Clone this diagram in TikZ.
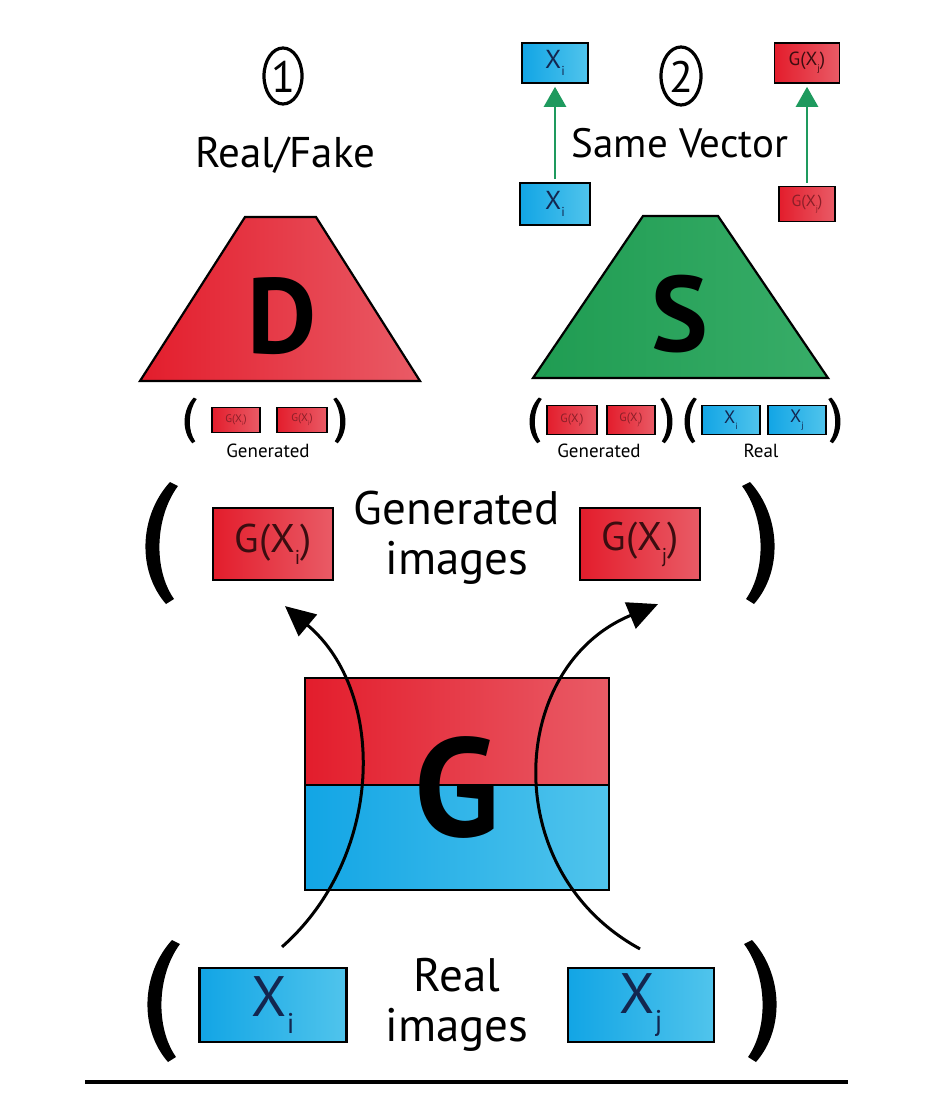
\documentclass[tikz,border=0pt]{standalone}
\usepackage{fontspec}
\usepackage{graphicx}
\setmainfont{PT Sans}
\usetikzlibrary{arrows.meta}
\definecolor{rl}{HTML}{E31D2C}
\definecolor{rr}{HTML}{E95B66}
\definecolor{bl}{HTML}{12A5E5}
\definecolor{br}{HTML}{50C4EC}
\definecolor{gl}{HTML}{1F9C52}
\definecolor{gr}{HTML}{38AD68}
\definecolor{garr}{HTML}{1E9A5E}
\definecolor{rtxt}{HTML}{3B0D10}
\definecolor{rtiny}{HTML}{8A1F28}
\definecolor{btxt}{HTML}{13264F}
\newcommand\fs[1]{\fontsize{#1}{#1}\selectfont}
\newcommand\sub[1]{\raisebox{-0.3em}{\scalebox{0.5}{#1}}}
\tikzset{
  redfill/.style={left color=rl, right color=rr},
  bluefill/.style={left color=bl, right color=br},
  greenfill/.style={left color=gl, right color=gr},
  box/.style={draw=black, line width=2.2pt, inner sep=0pt},
  tinybox/.style={draw=black, line width=1.6pt, inner sep=0pt},
  lbl/.style={inner sep=0pt, text=black},
  garrow/.style={draw=garr, line width=2.5pt, -{Triangle[length=20pt,width=22pt]}, shorten <=3pt, shorten >=3pt},
  barrow/.style={draw=black, line width=3pt, -{Triangle[length=30pt,width=28pt]}},
  paren/.pic={\fill (2,-60) .. controls (-29,-26) and (-31,29) .. (-2,62) -- (6,57) .. controls (-15,27) and (-13,-25) .. (10,-56) -- cycle;}
}
\begin{document}
\begin{tikzpicture}[x=1pt,y=-1pt]
\useasboundingbox (0,0) rectangle (934,1118);
\fill[white] (0,0) rectangle (934,1118);

% ---------- circled numbers and headings
\draw[line width=3.2pt] (283,76) ellipse [x radius=19, y radius=28];
\node[lbl] (n1) at (283,77) {\fs{44}1};
\draw[line width=3.2pt] (681,76) ellipse [x radius=20, y radius=29];
\node[lbl] (n2) at (681,77) {\fs{44}2};
\node[lbl] (rf) at (285,155) {\fs{43}Real/Fake};
\node[lbl] (sv) at (680,143) {\fs{41}Same Vector};

% ---------- D trapezoid
\coordinate (d1) at (245,217);
\coordinate (d2) at (316,217);
\coordinate (d3) at (420,381);
\coordinate (d4) at (140,381);
\path[draw=black, line width=2.2pt, redfill] (d1) -- (d2) -- (d3) -- (d4) -- cycle;
\node[lbl] (D) at (282,316) {\fs{107}\bfseries D};

% ---------- S trapezoid
\coordinate (s1) at (643,216);
\coordinate (s2) at (718,216);
\coordinate (s3) at (828,378);
\coordinate (s4) at (533,378);
\path[draw=black, line width=2.2pt, greenfill] (s1) -- (s2) -- (s3) -- (s4) -- cycle;
\node[lbl] (S) at (680,314) {\fs{107}\bfseries S};

% ---------- top small boxes and green arrows
\node[tinybox, bluefill, minimum width=66pt, minimum height=40pt, text=btxt] (xt) at (555,63) {\fs{26}X\sub{i}};
\node[tinybox, bluefill, minimum width=70pt, minimum height=42pt, text=btxt] (xb) at (555,204) {\fs{26}X\sub{i}};
\node[tinybox, redfill, minimum width=65pt, minimum height=40pt, text=rtxt] (gt) at (807,63) {\fs{19}G(X\sub{j})};
\node[tinybox, redfill, minimum width=56pt, minimum height=35pt, text=rtiny] (gb) at (807,204) {\fs{16}G(X\sub{j})};
\draw[garrow] (xb) -- (xt);
\draw[garrow] (gb) -- (gt);

% ---------- under D
\pic[scale=0.375] (pd1) at (193,420) {paren};
\pic[scale=0.375, xscale=-1] (pd2) at (337,420) {paren};
\node[tinybox, redfill, minimum width=48pt, minimum height=25pt, text=rtiny] (dg1) at (236,420) {\fs{11}G(X\sub{i})};
\node[tinybox, redfill, minimum width=50pt, minimum height=25pt, text=rtiny] (dg2) at (302,420) {\fs{11}G(X\sub{j})};
\node[lbl] (dgen) at (268,451) {\fs{19}Generated};

% ---------- under S
\pic[scale=0.375] (ps1) at (538,420) {paren};
\pic[scale=0.375, xscale=-1] (ps2) at (664,420) {paren};
\pic[scale=0.375] (ps3) at (693,420) {paren};
\pic[scale=0.375, xscale=-1] (ps4) at (832,420) {paren};
\node[tinybox, redfill, minimum width=50pt, minimum height=29pt, text=rtiny] (sg1) at (572,420) {\fs{12}G(X\sub{i})};
\node[tinybox, redfill, minimum width=48pt, minimum height=29pt, text=rtiny] (sg2) at (631,420) {\fs{12}G(X\sub{j})};
\node[tinybox, bluefill, minimum width=58pt, minimum height=29pt, text=btxt] (sx1) at (731,420) {\fs{18}X\sub{i}};
\node[tinybox, bluefill, minimum width=58pt, minimum height=29pt, text=btxt] (sx2) at (797,420) {\fs{18}X\sub{j}};
\node[lbl] (sgen) at (599,451) {\fs{19}Generated};
\node[lbl] (sreal) at (761,451) {\fs{19}Real};

% ---------- generated images row
\pic (pg1) at (168,542) {paren};
\pic[xscale=-1] (pg2) at (752,542) {paren};
\node[box, redfill, minimum width=120pt, minimum height=72pt, text=rtxt] (gi) at (273,544) {\fs{40}G(X\sub{i})};
\node[box, redfill, minimum width=120pt, minimum height=72pt, text=rtxt] (gj) at (640,544) {\fs{40}G(X\sub{j})};
\node[lbl] (gtxt1) at (457,508) {\fs{47}Generated};
\node[lbl] (gtxt2) at (457,563) {\fs{47}images};

% ---------- G block
\node[box, redfill, minimum width=304pt, minimum height=107pt] (Gtop) at (457,731.5) {};
\node[box, bluefill, minimum width=304pt, minimum height=105pt] (Gbot) at (457,837.5) {};
\node[lbl] (G) at (457,787) {\fs{140}\bfseries G};

% ---------- real images row
\pic (pr1) at (170,1000) {paren};
\pic[xscale=-1] (pr2) at (754,1000) {paren};
\node[box, bluefill, minimum width=147pt, minimum height=74pt, text=btxt] (xi) at (273,1005) {\fs{57}X\sub{i}};
\node[box, bluefill, minimum width=146pt, minimum height=74pt, text=btxt] (xj) at (641,1005) {\fs{57}X\sub{j}};
\node[lbl] (rtxt1) at (457,975) {\fs{47}Real};
\node[lbl] (rtxt2) at (457,1030) {\fs{47}images};

% ---------- G connectors
\draw[barrow] ([xshift=9pt,yshift=20pt]xi.north) .. controls (383,858) and (388,693) .. ([xshift=12pt,yshift=-25pt]gi.south);
\draw[barrow] ([xshift=-1pt,yshift=18pt]xj.north) .. controls (497,871) and (508,666) .. ([xshift=18pt,yshift=-23pt]gj.south);

% ---------- baseline
\coordinate (bl1) at (85,1082);
\coordinate (bl2) at (848,1082);
\draw[line width=4pt] (bl1) -- (bl2);
\end{tikzpicture}
\end{document}
